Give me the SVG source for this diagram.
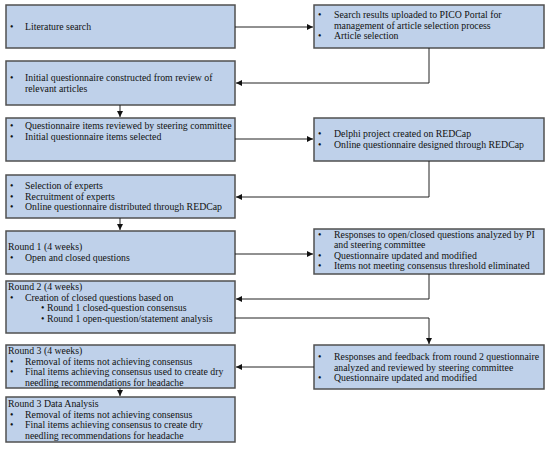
<svg xmlns="http://www.w3.org/2000/svg" width="550" height="450" viewBox="0 0 550 450">
<defs>
<marker id="ah" viewBox="0 0 10 10" refX="10" refY="5" markerWidth="6" markerHeight="6" markerUnits="userSpaceOnUse" orient="auto">
<path d="M0,0 L10,5 L0,10 z" fill="#111"/>
</marker>
<style>
.box{fill:#bfd1ea;stroke:#505050;stroke-width:1.5}
text{font-family:"Liberation Serif","Times New Roman",serif;font-size:9.8px;fill:#111}
.c{fill:none;stroke:#222;stroke-width:1}
</style>
</defs>
<rect width="550" height="450" fill="#fff"/>
<g id="n1"><rect class="box" x="6" y="5" width="229" height="43"/>
<text x="10" y="30">•</text><text x="25" y="30">Literature search</text></g>
<g id="n2"><rect class="box" x="314" y="5" width="230" height="43"/>
<text x="318" y="18">•</text><text x="334" y="18">Search results uploaded to PICO Portal for</text>
<text x="334" y="28.5">management of article selection process</text>
<text x="318" y="39">•</text><text x="334" y="39">Article selection</text></g>
<g id="n3"><rect class="box" x="6" y="61" width="229" height="44"/>
<text x="10" y="81">•</text><text x="25" y="81">Initial questionnaire constructed from review of</text>
<text x="25" y="91.5">relevant articles</text></g>
<g id="n4"><rect class="box" x="6" y="118" width="229" height="43"/>
<text x="10" y="129">•</text><text x="25" y="129">Questionnaire items reviewed by steering committee</text>
<text x="10" y="139.5">•</text><text x="25" y="139.5">Initial questionnaire items selected</text></g>
<g id="n5"><rect class="box" x="314" y="118" width="230" height="43"/>
<text x="318" y="137">•</text><text x="334" y="137">Delphi project created on REDCap</text>
<text x="318" y="147.5">•</text><text x="334" y="147.5">Online questionnaire designed through REDCap</text></g>
<g id="n6"><rect class="box" x="6" y="175" width="229" height="43"/>
<text x="10" y="189">•</text><text x="25" y="189">Selection of experts</text>
<text x="10" y="199.5">•</text><text x="25" y="199.5">Recruitment of experts</text>
<text x="10" y="210">•</text><text x="25" y="210">Online questionnaire distributed through REDCap</text></g>
<g id="n7"><rect class="box" x="6" y="231" width="229" height="43"/>
<text x="8" y="249.5">Round 1 (4 weeks)</text>
<text x="10" y="261">•</text><text x="25" y="261">Open and closed questions</text></g>
<g id="n8"><rect class="box" x="314" y="229" width="230" height="45"/>
<text x="318" y="238">•</text><text x="334" y="238">Responses to open/closed questions analyzed by PI</text>
<text x="334" y="248">and steering committee</text>
<text x="318" y="258.5">•</text><text x="334" y="258.5">Questionnaire updated and modified</text>
<text x="318" y="269">•</text><text x="334" y="269">Items not meeting consensus threshold eliminated</text></g>
<g id="n9"><rect class="box" x="6" y="281" width="229" height="52"/>
<text x="8" y="290">Round 2 (4 weeks)</text>
<text x="10" y="300.5">•</text><text x="25" y="300.5">Creation of closed questions based on</text>
<text x="41" y="311">• Round 1 closed-question consensus</text>
<text x="41" y="321.5">• Round 1 open-question/statement analysis</text></g>
<g id="n10"><rect class="box" x="314" y="345" width="230" height="44"/>
<text x="318" y="360">•</text><text x="334" y="360">Responses and feedback from round 2 questionnaire</text>
<text x="334" y="370.5">analyzed and reviewed by steering committee</text>
<text x="318" y="381">•</text><text x="334" y="381">Questionnaire updated and modified</text></g>
<g id="n11"><rect class="box" x="6" y="345" width="229" height="43"/>
<text x="8" y="354">Round 3 (4 weeks)</text>
<text x="10" y="364.5">•</text><text x="25" y="364.5">Removal of items not achieving consensus</text>
<text x="10" y="375">•</text><text x="25" y="375">Final items achieving consensus used to create dry</text>
<text x="25" y="385.5">needling recommendations for headache</text></g>
<g id="n12"><rect class="box" x="6" y="397" width="229" height="45"/>
<text x="8" y="407">Round 3 Data Analysis</text>
<text x="10" y="417.5">•</text><text x="25" y="417.5">Removal of items not achieving consensus</text>
<text x="10" y="428">•</text><text x="25" y="428">Final items achieving consensus to create dry</text>
<text x="25" y="438.5">needling recommendations for headache</text></g>
<g id="connectors">
<path class="c" d="M235,27 H313" marker-end="url(#ah)"/>
<path class="c" d="M429,48 V83 H236" marker-end="url(#ah)"/>
<path class="c" d="M120,105 V117" marker-end="url(#ah)"/>
<path class="c" d="M235,139 H313" marker-end="url(#ah)"/>
<path class="c" d="M429,161 V197 H236" marker-end="url(#ah)"/>
<path class="c" d="M120,218 V230" marker-end="url(#ah)"/>
<path class="c" d="M235,254 H313" marker-end="url(#ah)"/>
<path class="c" d="M429,274 V299 H236" marker-end="url(#ah)"/>
<path class="c" d="M235,318 H429 V344" marker-end="url(#ah)"/>
<path class="c" d="M314,367 H236" marker-end="url(#ah)"/>
<path class="c" d="M120,388 V396" marker-end="url(#ah)"/>
</g>
</svg>
